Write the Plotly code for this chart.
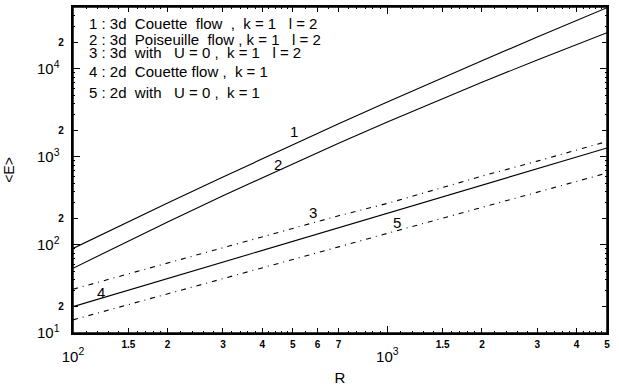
import math
import plotly.graph_objects as go

# ---- data ----
R = [100, 150, 200, 300, 500, 700, 1000, 1500, 2000, 3000, 5000]
E1 = [91, 183, 299, 590, 1370, 2360, 4170, 7880, 12300, 22800, 49000]
E2 = [54.3, 111, 182, 361, 835, 1426, 2483, 4580, 7000, 12530, 25500]
E3 = [31.4, 46.9, 62.3, 92.9, 154, 214, 295, 447, 603, 891, 1490]
E4 = [19.9, 30.6, 41.5, 63.8, 110, 157, 229, 352, 479, 733, 1256]
E5 = [14.1, 20.9, 27.7, 41.3, 68.2, 94.9, 135, 200, 266, 395, 653]

SERIES = [E1, E2, E3, E4, E5]
DASHES = ["solid", "solid", "5px,5px,1px,5px", "solid", "5px,5px,1px,5px"]

LEGEND_LINES = [
    "1 : 3d&nbsp; Couette&nbsp; flow&nbsp; ,&nbsp; k = 1&nbsp;&nbsp; l = 2",
    "2 : 3d&nbsp; Poiseuille&nbsp; flow , k = 1&nbsp;&nbsp; l = 2",
    "3 : 3d&nbsp; with&nbsp;&nbsp; U = 0 ,&nbsp; k = 1&nbsp;&nbsp; l = 2",
    "4 : 2d&nbsp; Couette flow ,&nbsp; k = 1",
    "5 : 2d&nbsp; with&nbsp;&nbsp; U = 0 ,&nbsp; k = 1",
]
LEGEND_Y = [23, 40, 53, 72, 92]   # pixel rows of legend text

CURVE_LABELS = ["1", "2", "3", "4", "5"]
CURVE_LABEL_R = [506, 450, 581, 123, 1076]
CURVE_LABEL_E = [1920, 811, 231, 28.5, 178]

X_LABEL_VALS = [150, 200, 300, 400, 500, 600, 700, 1500, 2000, 3000, 4000, 5000]
X_LABEL_TEXT = ["1.5", "2", "3", "4", "5", "6", "7", "1.5", "2", "3", "4", "5"]
X_MAJOR_VALS = [100, 1000]
X_MAJOR_TEXT = ["10<sup>2</sup>", "10<sup>3</sup>"]
Y_LABEL_VALS = [20, 200, 2000, 20000]
Y_LABEL_TEXT = ["2", "2", "2", "2"]
Y_MAJOR_VALS = [10, 100, 1000, 10000]
Y_MAJOR_TEXT = ["10<sup>1</sup>", "10<sup>2</sup>", "10<sup>3</sup>", "10<sup>4</sup>"]

X_MINOR = ([v for v in range(110, 200, 10)] + [v for v in range(220, 500, 20)]
           + [v for v in range(550, 1000, 50)] + [v for v in range(1100, 2000, 100)]
           + [v for v in range(2200, 5000, 200)])
Y_MINOR = [m * 10 ** d for d in range(1, 5) for m in range(3, 10)]

XR = [2, math.log10(5000)]
YR = [1, math.log10(50000)]

FONT = "Liberation Sans, Arial, Helvetica, sans-serif"

fig = go.Figure()
for ys, dash in zip(SERIES, DASHES):
    fig.add_trace(go.Scatter(x=R, y=ys, mode="lines",
                             line=dict(color="black", width=1.1, dash=dash),
                             hoverinfo="skip"))
# empty traces so the overlaid tick/label axes get created
fig.add_trace(go.Scatter(x=[], y=[], xaxis="x2", yaxis="y2", mode="lines",
                         hoverinfo="skip", showlegend=False))
fig.add_trace(go.Scatter(x=[], y=[], xaxis="x3", yaxis="y3", mode="lines",
                         hoverinfo="skip", showlegend=False))

W, H = 619, 390
ML, MR, MT, MB = 73, 12, 7, 57
ph = H - MT - MB

annotations = []
for txt, py in zip(LEGEND_LINES, LEGEND_Y):
    annotations.append(dict(text=txt, xref="paper", yref="paper",
                            x=(87 - ML) / (W - ML - MR), y=(H - MB - py) / ph,
                            xanchor="left", yanchor="middle", showarrow=False,
                            font=dict(size=15, color="black", family=FONT)))
for lab, rx, ey in zip(CURVE_LABELS, CURVE_LABEL_R, CURVE_LABEL_E):
    annotations.append(dict(text=lab, xref="x", yref="y",
                            x=math.log10(rx), y=math.log10(ey),
                            showarrow=False, font=dict(size=15, color="black", family=FONT)))

axis_common = dict(type="log", showgrid=False, zeroline=False,
                   tickcolor="#000000", tickwidth=1, ticks="inside")

NB = "&nbsp;"
fig.update_layout(
    width=W, height=H,
    margin=dict(l=ML, r=MR, t=MT, b=MB, autoexpand=False),
    paper_bgcolor="white", plot_bgcolor="white",
    showlegend=False,
    font=dict(family=FONT, color="black"),
    annotations=annotations,
    shapes=[dict(type="rect", xref="paper", yref="paper", x0=0, x1=1, y0=0, y1=1,
                 line=dict(color="black", width=1.5), layer="above")],
    xaxis=dict(**axis_common, range=XR, showline=True, linecolor="#000000", linewidth=1.5,
               mirror="ticks", ticklen=5,
               tickmode="array", tickvals=X_LABEL_VALS,
               ticktext=['<span style="font-size:10px"><b>' + t + "</b></span>"
                         for t in X_LABEL_TEXT],
               tickfont=dict(size=11, color="black"),
               title=dict(text="R", font=dict(size=15, color="black"), standoff=24)),
    xaxis2=dict(**axis_common, range=XR, overlaying="x", anchor="y2", side="bottom",
                showline=False, mirror="ticks", ticklen=7,
                tickmode="array", tickvals=X_MAJOR_VALS,
                ticktext=['<br><span style="font-size:15px">' + t + "</span>"
                          for t in X_MAJOR_TEXT],
                tickfont=dict(size=12, color="black")),
    xaxis3=dict(**axis_common, range=XR, overlaying="x", anchor="y3", side="bottom",
                showline=False, mirror="ticks", ticklen=2, showticklabels=False,
                tickmode="array", tickvals=X_MINOR),
    yaxis=dict(**axis_common, range=YR, showline=True, linecolor="#000000", linewidth=1.5,
               mirror="ticks", ticklen=5,
               tickmode="array", tickvals=Y_LABEL_VALS,
               ticktext=["<b>" + t + "</b>" + NB * 2 for t in Y_LABEL_TEXT],
               tickfont=dict(size=10, color="black"),
               title=dict(text="&lt;E&gt;", font=dict(size=14, color="black"), standoff=40)),
    yaxis2=dict(**axis_common, range=YR, overlaying="y", anchor="x2", side="left",
                showline=False, mirror="ticks", ticklen=7,
                tickmode="array", tickvals=Y_MAJOR_VALS,
                ticktext=[t + NB * 3 for t in Y_MAJOR_TEXT],
                tickfont=dict(size=15, color="black")),
    yaxis3=dict(**axis_common, range=YR, overlaying="y", anchor="x3", side="left",
                showline=False, mirror="ticks", ticklen=2, showticklabels=False,
                tickmode="array", tickvals=Y_MINOR),
)

fig.write_html("out.html", config={"displayModeBar": False},
               post_script="document.body.style.margin='0';document.body.style.padding='0';")
